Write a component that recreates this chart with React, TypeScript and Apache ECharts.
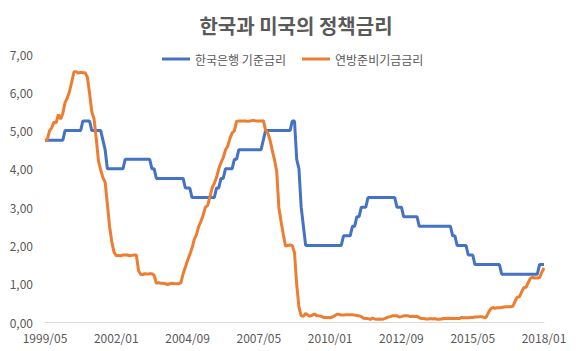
import React, { useEffect, useRef } from "react";
import * as echarts from "echarts";

const title = "한국과 미국의 정책금리";
const seriesNames = ["한국은행 기준금리", "연방준비기금금리"];

// monthly categories 1999/05 .. 2018/01
const startYear = 1999;
const startMonth = 5;
const monthCount = 225;
const categories: string[] = [];
for (let i = 0; i < monthCount; i++) {
  const m = startMonth - 1 + i;
  const y = startYear + Math.floor(m / 12);
  const mm = (m % 12) + 1;
  categories.push(`${y}/${mm < 10 ? "0" + mm : mm}`);
}

const koreaRate = [
  // 1999 May-Dec
  4.75, 4.75, 4.75, 4.75, 4.75, 4.75, 4.75, 4.75,
  // 2000
  4.75, 5.0, 5.0, 5.0, 5.0, 5.0, 5.0, 5.0, 5.0, 5.25, 5.25, 5.25,
  // 2001
  5.25, 5.0, 5.0, 5.0, 5.0, 5.0, 4.75, 4.5, 4.0, 4.0, 4.0, 4.0,
  // 2002
  4.0, 4.0, 4.0, 4.0, 4.25, 4.25, 4.25, 4.25, 4.25, 4.25, 4.25, 4.25,
  // 2003
  4.25, 4.25, 4.25, 4.25, 4.0, 4.0, 3.75, 3.75, 3.75, 3.75, 3.75, 3.75,
  // 2004
  3.75, 3.75, 3.75, 3.75, 3.75, 3.75, 3.75, 3.5, 3.5, 3.5, 3.25, 3.25,
  // 2005
  3.25, 3.25, 3.25, 3.25, 3.25, 3.25, 3.25, 3.25, 3.25, 3.5, 3.5, 3.75,
  // 2006
  3.75, 4.0, 4.0, 4.0, 4.0, 4.25, 4.25, 4.5, 4.5, 4.5, 4.5, 4.5,
  // 2007
  4.5, 4.5, 4.5, 4.5, 4.5, 4.5, 4.75, 5.0, 5.0, 5.0, 5.0, 5.0,
  // 2008
  5.0, 5.0, 5.0, 5.0, 5.0, 5.0, 5.0, 5.25, 5.25, 4.25, 4.0, 3.0,
  // 2009
  2.5, 2.0, 2.0, 2.0, 2.0, 2.0, 2.0, 2.0, 2.0, 2.0, 2.0, 2.0,
  // 2010
  2.0, 2.0, 2.0, 2.0, 2.0, 2.0, 2.25, 2.25, 2.25, 2.25, 2.5, 2.5,
  // 2011
  2.75, 2.75, 3.0, 3.0, 3.0, 3.25, 3.25, 3.25, 3.25, 3.25, 3.25, 3.25,
  // 2012
  3.25, 3.25, 3.25, 3.25, 3.25, 3.25, 3.0, 3.0, 3.0, 2.75, 2.75, 2.75,
  // 2013
  2.75, 2.75, 2.75, 2.75, 2.5, 2.5, 2.5, 2.5, 2.5, 2.5, 2.5, 2.5,
  // 2014
  2.5, 2.5, 2.5, 2.5, 2.5, 2.5, 2.5, 2.25, 2.25, 2.0, 2.0, 2.0,
  // 2015
  2.0, 2.0, 1.75, 1.75, 1.75, 1.5, 1.5, 1.5, 1.5, 1.5, 1.5, 1.5,
  // 2016
  1.5, 1.5, 1.5, 1.5, 1.5, 1.25, 1.25, 1.25, 1.25, 1.25, 1.25, 1.25,
  // 2017
  1.25, 1.25, 1.25, 1.25, 1.25, 1.25, 1.25, 1.25, 1.25, 1.25, 1.5, 1.5,
  // 2018
  1.5,
];

const fedRate = [
  // 1999 May-Dec
  4.74, 4.76, 4.99, 5.07, 5.22, 5.2, 5.42, 5.3,
  // 2000
  5.45, 5.73, 5.85, 6.02, 6.27, 6.53, 6.54, 6.5, 6.52, 6.51, 6.51, 6.4,
  // 2001
  5.98, 5.49, 5.31, 4.8, 4.21, 3.97, 3.77, 3.65, 3.07, 2.49, 2.09, 1.82,
  // 2002
  1.73, 1.74, 1.73, 1.75, 1.75, 1.75, 1.73, 1.74, 1.75, 1.75, 1.34, 1.24,
  // 2003
  1.24, 1.26, 1.25, 1.26, 1.26, 1.22, 1.01, 1.03, 1.01, 1.01, 1.0, 0.98,
  // 2004
  1.0, 1.01, 1.0, 1.0, 1.0, 1.03, 1.26, 1.43, 1.61, 1.76, 1.93, 2.16,
  // 2005
  2.28, 2.5, 2.63, 2.79, 3.0, 3.04, 3.26, 3.5, 3.62, 3.78, 4.0, 4.16,
  // 2006
  4.29, 4.49, 4.59, 4.79, 4.94, 4.99, 5.24, 5.25, 5.25, 5.25, 5.25, 5.24,
  // 2007
  5.25, 5.26, 5.26, 5.25, 5.25, 5.25, 5.26, 5.02, 4.94, 4.76, 4.49, 4.24,
  // 2008
  3.94, 2.98, 2.61, 2.28, 1.98, 2.0, 2.01, 2.0, 1.81, 0.97, 0.39, 0.16,
  // 2009
  0.15, 0.22, 0.18, 0.15, 0.18, 0.21, 0.16, 0.16, 0.15, 0.12, 0.12, 0.12,
  // 2010
  0.11, 0.13, 0.16, 0.2, 0.2, 0.18, 0.18, 0.19, 0.19, 0.19, 0.19, 0.18,
  // 2011
  0.17, 0.16, 0.14, 0.1, 0.09, 0.09, 0.07, 0.1, 0.08, 0.07, 0.08, 0.07,
  // 2012
  0.08, 0.1, 0.13, 0.14, 0.16, 0.16, 0.16, 0.13, 0.14, 0.16, 0.16, 0.16,
  // 2013
  0.14, 0.15, 0.14, 0.15, 0.11, 0.09, 0.09, 0.08, 0.08, 0.09, 0.08, 0.09,
  // 2014
  0.07, 0.07, 0.08, 0.09, 0.09, 0.1, 0.09, 0.09, 0.09, 0.09, 0.09, 0.12,
  // 2015
  0.11, 0.11, 0.11, 0.12, 0.12, 0.13, 0.13, 0.14, 0.14, 0.12, 0.12, 0.24,
  // 2016
  0.34, 0.38, 0.36, 0.37, 0.37, 0.38, 0.39, 0.4, 0.4, 0.4, 0.41, 0.54,
  // 2017
  0.65, 0.66, 0.79, 0.9, 0.91, 1.04, 1.15, 1.16, 1.15, 1.15, 1.16, 1.3,
  // 2018
  1.41,
];

const colors = ["#4472C4", "#ED7D31"];
const font = "'Noto Sans CJK KR', 'Noto Sans', sans-serif";
const textColor = "#595959";

export default function App() {
  const ref = useRef<HTMLDivElement>(null);
  useEffect(() => {
    if (!ref.current) return;
    const chart = echarts.init(ref.current, null, { renderer: "svg" });
    chart.setOption({
      animation: false,
      backgroundColor: "#ffffff",
      title: {
        text: title,
        left: 291,
        top: 10,
        textAlign: "center",
        textStyle: {
          fontFamily: font,
          fontSize: 20,
          fontWeight: "bold",
          color: textColor,
        },
      },
      legend: {
        left: 157,
        top: 48,
        itemWidth: 28,
        itemHeight: 3,
        itemGap: 16,
        icon: "rect",
        textStyle: { fontFamily: font, fontSize: 12, color: textColor },
        data: seriesNames,
      },
      grid: { left: 45, right: 38, top: 54, bottom: 29, containLabel: false },
      xAxis: {
        type: "category",
        data: categories,
        boundaryGap: false,
        axisLine: { lineStyle: { color: "#d9d9d9", width: 1 } },
        axisTick: { show: false },
        axisLabel: {
          interval: 31,
          margin: 9,
          fontFamily: font,
          fontSize: 12,
          color: textColor,
          showMaxLabel: true,
        },
        splitLine: { show: false },
      },
      yAxis: {
        type: "value",
        min: 0,
        max: 7,
        interval: 1,
        axisLine: { show: false },
        axisTick: { show: false },
        splitLine: { show: false },
        axisLabel: {
          margin: 12,
          fontFamily: font,
          fontSize: 12,
          color: textColor,
          formatter: (v: number) => v.toFixed(2).replace(".", ","),
        },
      },
      series: [
        {
          name: seriesNames[0],
          type: "line",
          data: koreaRate,
          showSymbol: false,
          symbol: "none",
          lineStyle: { color: colors[0], width: 3 },
          itemStyle: { color: colors[0] },
        },
        {
          name: seriesNames[1],
          type: "line",
          data: fedRate,
          showSymbol: false,
          symbol: "none",
          lineStyle: { color: colors[1], width: 3 },
          itemStyle: { color: colors[1] },
        },
      ],
    });
    return () => chart.dispose();
  }, []);
  return <div ref={ref} style={{ width: 582, height: 351, position: "absolute", left: 0, top: 0 }} />;
}
